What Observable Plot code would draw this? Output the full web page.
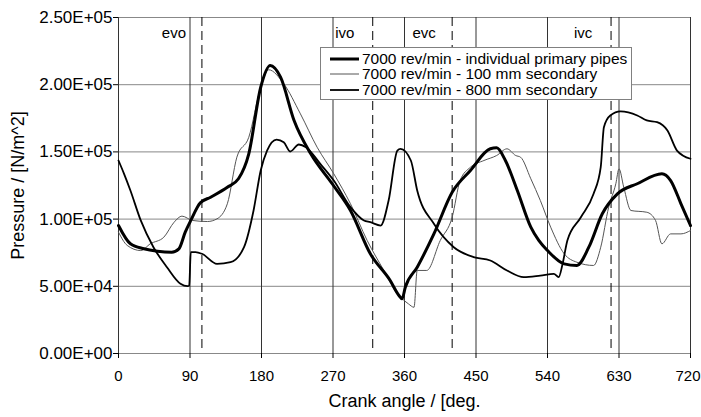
<!DOCTYPE html>
<html><head><meta charset="utf-8">
<script src="https://cdn.jsdelivr.net/npm/d3@7"></script>
<script src="https://cdn.jsdelivr.net/npm/@observablehq/plot@0.6"></script>
<style>
body{margin:0;background:#fff;font-family:"Liberation Sans",Arial,sans-serif;}
#wrap{position:relative;width:701px;height:417px;}
#legend{position:absolute;left:320px;top:47px;width:312px;height:53px;border:1px solid #808080;background:#fff;font-size:15.5px;box-sizing:border-box;}
.row{position:absolute;left:9px;height:16px;display:flex;align-items:center;white-space:nowrap;}
.row svg{margin-right:3px;}
</style></head><body><div id="wrap"><div id="legend"></div></div>
<script>
// Series names
const seriesNames = [
  "7000 rev/min - individual primary pipes",
  "7000 rev/min - 100 mm secondary",
  "7000 rev/min - 800 mm secondary"
];
// Series A: individual primary pipes
const angleA = [0,15,32,49,67,76,84,91,103,116,137,151,164,179,191,204,221,242,269,292,317,342,353,357,361,376,397,420,443,468,476,487,502,519,529,540,561,577,592,609,628,653,684,695,708,720];
const pressA = [95200,81600,77900,76100,75400,77900,90300,99000,112100,116300,123700,130000,148600,198100,214300,205600,173400,148600,126300,106400,74200,54300,43200,40700,49300,64200,89000,120000,136200,152300,153000,143600,121300,94000,84100,76600,66700,65500,79100,104000,118800,126300,133700,128700,111400,95200];
// Series B: 100 mm secondary
const angleB = [0,11,28,40,57,70,80,93,112,124,137,149,164,179,189,208,229,250,271,292,313,334,351,355,365,372,376,388,405,420,430,443,460,476,489,500,506,519,531,544,561,577,598,607,617,626,630,636,645,665,676,684,695,708,720];
const pressB = [90300,80400,76600,81600,86500,97700,102200,99000,98200,100200,111400,146100,160900,198000,211100,200700,178300,153500,133700,111400,84100,61800,44400,41900,36900,34400,61800,61800,84100,101400,128700,138600,143600,147300,152300,147300,146100,130000,113800,94000,74200,67900,65500,79100,108900,126300,137400,123700,106400,105100,99000,81600,89000,89000,91500];
// Series C: 800 mm secondary
const angleC = [0,7,15,28,44,61,78,87,89,91,97,105,124,141,158,170,179,187,199,208,216,227,236,254,271,292,309,317,330,340,351,355,368,376,397,422,447,468,489,510,531,548,554,559,565,582,598,607,611,619,632,653,665,678,691,703,720];
const pressC = [143600,133700,121300,99000,79100,64200,51900,50100,50500,75400,75400,74200,66700,67900,79100,106400,136200,151000,159200,157200,150300,155500,153500,141100,128700,108900,99000,97700,95200,113800,151000,152300,143600,121300,96500,79100,71700,69200,61800,56800,58000,59300,56800,66700,84100,101400,118800,138600,168400,177100,180100,177100,173400,172100,165900,151000,144900];
// Valve events
const eventNames = ["evo","ivo","evc","ivc"];
const eventAngles = [105,320,420,620];
// Ticks
const xTicks = [0,90,180,270,360,450,540,630,720];
const yTicks = [0,50000,100000,150000,200000,250000];
const xLabel = "Crank angle / [deg.";
const yLabel = "Pressure / [N/m^2]";

const toRows = (a, p) => a.map((x, i) => ({angle: x, pressure: p[i]}));
const dataA = toRows(angleA, pressA);
const dataB = toRows(angleB, pressB);
const dataC = toRows(angleC, pressC);
const events = eventNames.map((n, i) => ({name: n, angle: eventAngles[i]}));

const fmt = d => {
  const [m, e] = d.toExponential(2).split("e");
  return m + "E" + e[0] + e.slice(1).padStart(2, "0");
};

const styles = [
  {stroke: "#000", strokeWidth: 3},
  {stroke: "#555", strokeWidth: 1},
  {stroke: "#000", strokeWidth: 1.8}
];

const chart = Plot.plot({
  width: 701, height: 417,
  marginLeft: 118, marginRight: 11, marginTop: 17, marginBottom: 64,
  style: {fontFamily: '"Liberation Sans", Arial, sans-serif', fontSize: "16px", color: "#000", background: "#fff"},
  x: {domain: [0, 720]},
  y: {domain: [0, 250000]},
  marks: [
    Plot.ruleY(yTicks, {stroke: "#888"}),
    Plot.ruleX(xTicks, {stroke: "#333"}),
    Plot.ruleX(events, {x: "angle", stroke: "#000", strokeDasharray: "9,5"}),
    Plot.text(events, {x: "angle", text: "name", frameAnchor: "top", lineAnchor: "middle", dy: 16, dx: -28, fontSize: 15}),
    Plot.line(dataB, {x: "angle", y: "pressure", curve: "monotone-x", ...styles[1]}),
    Plot.line(dataC, {x: "angle", y: "pressure", curve: "monotone-x", ...styles[2]}),
    Plot.line(dataA, {x: "angle", y: "pressure", curve: "monotone-x", ...styles[0]}),
    Plot.axisX({ticks: xTicks, tickSize: 5, tickFormat: () => "", label: null}),
    Plot.axisX({ticks: xTicks.slice(0, -1), tickSize: 0, tickPadding: 17, fontSize: 15, label: null}),
    Plot.axisX({ticks: xTicks.slice(-1), tickSize: 0, tickPadding: 17, fontSize: 15, textAnchor: "end", dx: 10, label: null}),
    Plot.axisY({ticks: yTicks, tickSize: 5, tickPadding: 1, fontSize: 17, tickFormat: fmt, label: null}),
    Plot.text([xLabel], {text: d => d, frameAnchor: "bottom", lineAnchor: "middle", dy: 48, fontSize: 18}),
    Plot.text([yLabel], {text: d => d, frameAnchor: "left", textAnchor: "middle", dx: -100, rotate: -90, fontSize: 18})
  ]
});
document.getElementById("wrap").prepend(chart);

const legend = document.getElementById("legend");
const rowCenters = [10.5, 26, 41.5];
seriesNames.forEach((name, i) => {
  const row = document.createElement("div");
  row.className = "row";
  row.style.top = (rowCenters[i] - 8) + "px";
  row.innerHTML = `<svg width="29" height="16"><line x1="0" x2="29" y1="8" y2="8" stroke="${styles[i].stroke}" stroke-width="${styles[i].strokeWidth}"/></svg><span>${name}</span>`;
  legend.appendChild(row);
});
</script></body></html>
